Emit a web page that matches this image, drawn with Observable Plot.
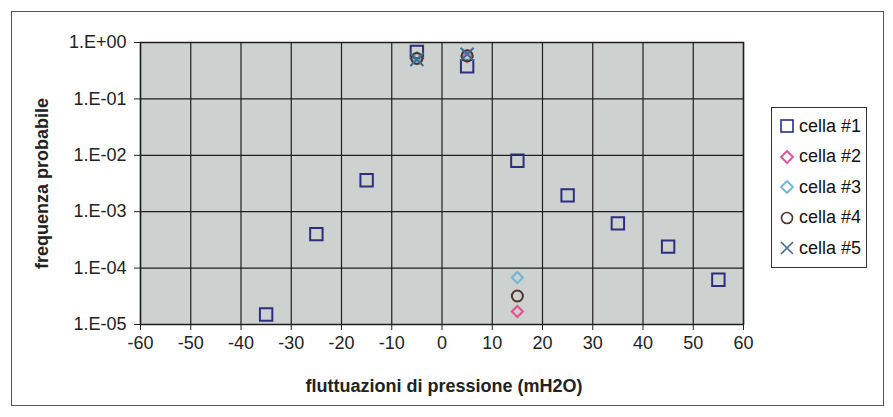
<!DOCTYPE html>
<html>
<head>
<meta charset="utf-8">
<script src="https://cdn.jsdelivr.net/npm/d3@7"></script>
<script src="https://cdn.jsdelivr.net/npm/@observablehq/plot@0.6"></script>
<style>
  body { margin: 0; background: #fff; }
  #wrap { position: relative; width: 893px; height: 417px; font-family: "Liberation Sans", Arial, sans-serif; }
  #outer { position: absolute; left: 11px; top: 11px; width: 873px; height: 395px; border: 1.5px solid #555; box-sizing: border-box; pointer-events: none; }
  #legend { position: absolute; left: 771px; top: 107px; width: 96px; border: 1.2px solid #333; background: #fff; padding: 3px 0 3px 7px; box-sizing: border-box; font-size: 18px; color: #111; }
  #legend .row { display: flex; align-items: center; height: 30.5px; white-space: nowrap; }
  #legend svg { margin-right: 4px; }
</style>
</head>
<body>
<div id="wrap"><div id="outer"></div></div>
<script>
// --- data ---
const xTicks = [-60, -50, -40, -30, -20, -10, 0, 10, 20, 30, 40, 50, 60];
const yTicks = [1e-5, 1e-4, 1e-3, 1e-2, 1e-1, 1];
const seriesNames = ["cella #1", "cella #2", "cella #3", "cella #4", "cella #5"];

const x1 = [-35, -25, -15, -5, 5, 15, 25, 35, 45, 55];
const y1 = [1.5e-5, 4.0e-4, 3.6e-3, 0.68, 0.38, 8.0e-3, 1.95e-3, 6.2e-4, 2.4e-4, 6.2e-5];
const x2 = [-5, 5, 15];
const y2 = [0.53, 0.56, 1.7e-5];
const x3 = [-5, 5, 15];
const y3 = [0.54, 0.58, 6.8e-5];
const x4 = [-5, 5, 15];
const y4 = [0.52, 0.58, 3.2e-5];
const x5 = [-5, 5];
const y5 = [0.5, 0.62];

const xTitle = "fluttuazioni di pressione (mH2O)";
const yTitle = "frequenza probabile";

const colors = ["#2e2e7e", "#e0508f", "#6fb6d6", "#4b3526", "#3d6f95"];

const fmtY = d => {
  const e = Math.round(Math.log10(d));
  return "1.E" + (e < 0 ? "-" : "+") + String(Math.abs(e)).padStart(2, "0");
};
const fmtX = d => String(d);

const chart = Plot.plot({
  width: 893,
  height: 417,
  marginLeft: 140,
  marginRight: 150,
  marginTop: 42,
  marginBottom: 93,
  style: { fontFamily: "'Liberation Sans', Arial, sans-serif", fontSize: "18px", color: "#222", background: "transparent" },
  x: { domain: [-60, 60], ticks: xTicks, tickFormat: fmtX, label: null },
  y: { type: "log", domain: [1e-5, 1], ticks: yTicks, tickFormat: fmtY, label: null },
  marks: [
    Plot.frame({ fill: "#cdd1cf" }),
    Plot.ruleX(xTicks, { stroke: "#1e1e1e", strokeWidth: 1.2 }),
    Plot.ruleY(yTicks, { stroke: "#1e1e1e", strokeWidth: 1.2 }),
    Plot.frame({ stroke: "#1e1e1e", strokeWidth: 1.5 }),
    Plot.axisX({ ticks: xTicks, tickFormat: fmtX, tickSize: 6, tickPadding: 6, label: null, fontSize: 18 }),
    Plot.axisY({ ticks: yTicks, tickFormat: fmtY, tickSize: 6, tickPadding: 8, label: null, fontSize: 18 }),
    Plot.text([xTitle], { frameAnchor: "bottom", textAnchor: "middle", lineAnchor: "middle", dy: 62, dx: 2, fontWeight: "bold", fontSize: 18, fill: "#222" }),
    Plot.text([yTitle], { frameAnchor: "left", textAnchor: "middle", lineAnchor: "middle", rotate: -90, dx: -98, fontWeight: "bold", fontSize: 18, fill: "#222" }),
    Plot.dot(x1, { x: x1, y: y1, symbol: "square", r: 7, stroke: colors[0], strokeWidth: 2, fill: "none" }),
    Plot.dot(x2, { x: x2, y: y2, symbol: "diamond2", r: 5, stroke: colors[1], strokeWidth: 2, fill: "none" }),
    Plot.dot(x3, { x: x3, y: y3, symbol: "diamond2", r: 5, stroke: colors[2], strokeWidth: 2, fill: "none" }),
    Plot.dot(x4, { x: x4, y: y4, symbol: "circle", r: 5.5, stroke: colors[3], strokeWidth: 2, fill: "none" }),
    Plot.dot(x5, { x: x5, y: y5, symbol: "times", r: 6, stroke: colors[4], strokeWidth: 2, fill: "none" })
  ]
});

const wrap = document.getElementById("wrap");
chart.style.position = "absolute";
chart.style.left = "0";
chart.style.top = "0";
wrap.insertBefore(chart, wrap.firstChild);

// legend
const shapes = ["square", "diamond", "diamond", "circle", "times"];
const legend = document.createElement("div");
legend.id = "legend";
seriesNames.forEach((name, i) => {
  const row = document.createElement("div");
  row.className = "row";
  const s = d3.create("svg").attr("width", 16).attr("height", 16);
  const c = colors[i];
  if (shapes[i] === "square") s.append("rect").attr("x", 2).attr("y", 2).attr("width", 12).attr("height", 12).attr("fill", "none").attr("stroke", c).attr("stroke-width", 1.6);
  else if (shapes[i] === "diamond") s.append("path").attr("d", "M8,2L14,8L8,14L2,8Z").attr("fill", "none").attr("stroke", c).attr("stroke-width", 1.8);
  else if (shapes[i] === "circle") s.append("circle").attr("cx", 8).attr("cy", 8).attr("r", 5.5).attr("fill", "none").attr("stroke", c).attr("stroke-width", 1.6);
  else s.append("path").attr("d", "M2,2L14,14M14,2L2,14").attr("stroke", c).attr("stroke-width", 1.6);
  row.appendChild(s.node());
  const t = document.createElement("span");
  t.textContent = name;
  row.appendChild(t);
  legend.appendChild(row);
});
wrap.appendChild(legend);
</script>
</body>
</html>
